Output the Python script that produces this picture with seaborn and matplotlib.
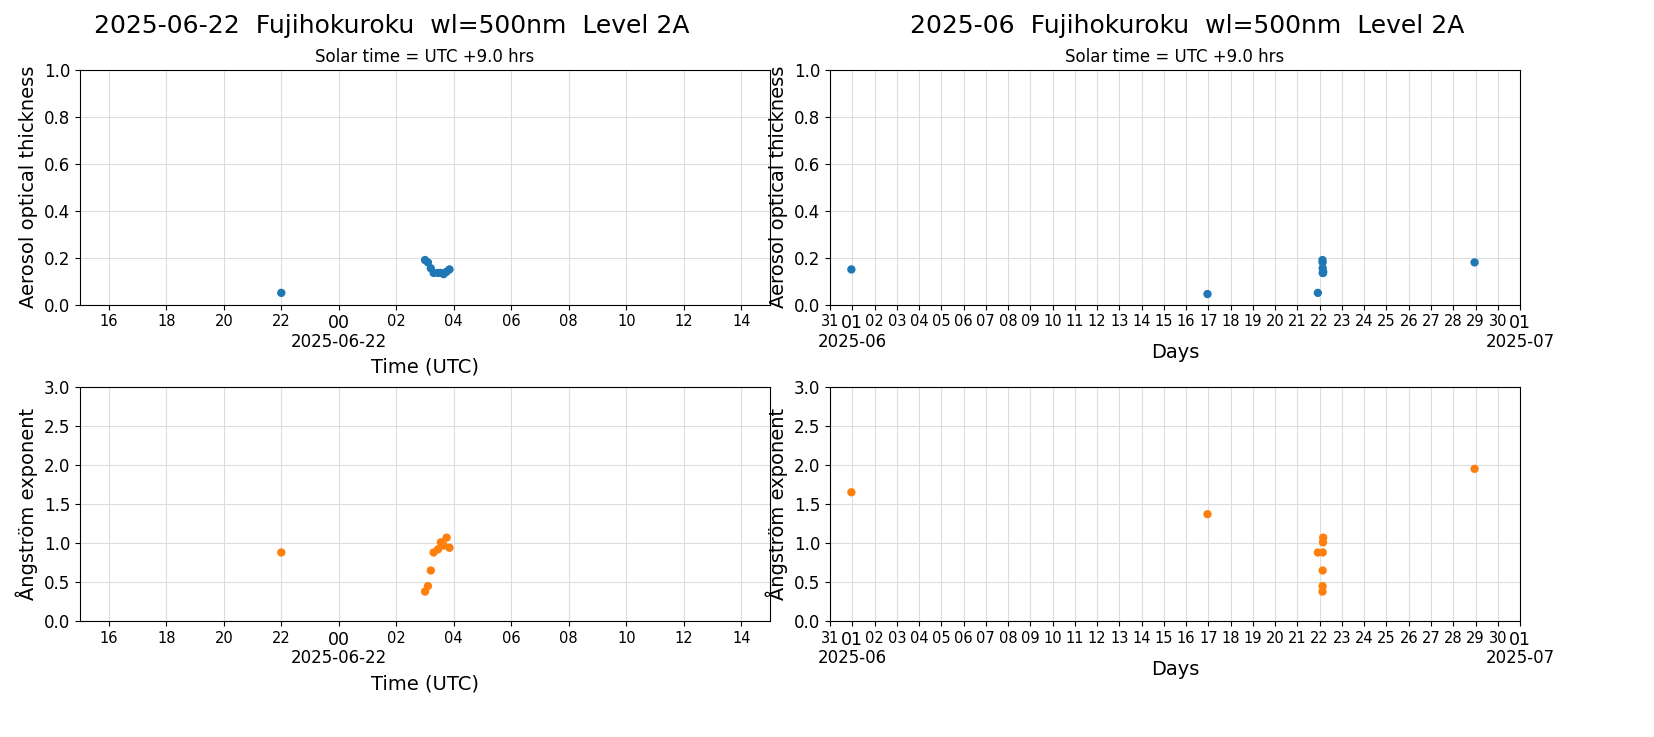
import pandas as pd
import numpy as np
import matplotlib
matplotlib.use("Agg")
import matplotlib.pyplot as plt
import seaborn as sns

# daily observations (UTC)
day_times = ["2025-06-21 22:00", "2025-06-22 03:00", "2025-06-22 03:06", "2025-06-22 03:12",
             "2025-06-22 03:18", "2025-06-22 03:27", "2025-06-22 03:33", "2025-06-22 03:39",
             "2025-06-22 03:45", "2025-06-22 03:51"]
day_aot = [0.05, 0.19, 0.18, 0.155, 0.135, 0.135, 0.135, 0.13, 0.14, 0.15]
day_ae = [0.88, 0.38, 0.45, 0.65, 0.88, 0.92, 1.01, 0.97, 1.07, 0.94]

# monthly observations
month_times = ["2025-05-31 23:00", "2025-06-16 23:00", "2025-06-21 22:00", "2025-06-22 03:00",
               "2025-06-22 03:06", "2025-06-22 03:12", "2025-06-22 03:18", "2025-06-22 03:33",
               "2025-06-22 03:45", "2025-06-28 23:00"]
month_aot = [0.15, 0.045, 0.05, 0.19, 0.18, 0.155, 0.135, 0.135, 0.14, 0.18]
month_ae = [1.65, 1.37, 0.88, 0.38, 0.45, 0.65, 0.88, 1.01, 1.07, 1.95]

day = pd.DataFrame({"t": pd.to_datetime(day_times), "aot": day_aot, "ae": day_ae})
mon = pd.DataFrame({"t": pd.to_datetime(month_times), "aot": month_aot, "ae": month_ae})

blue, orange = "#1f77b4", "#ff7f0e"
fig, axes = plt.subplots(2, 2, figsize=(16.54, 7.37), dpi=100)
plt.subplots_adjust(left=0.0484, right=0.919, top=0.905, bottom=0.157, wspace=0.087, hspace=0.35)

def style(ax, ylim, ylabel, yticks):
    ax.set_ylim(*ylim)
    ax.set_yticks(yticks)
    ax.set_yticklabels([f"{v:.1f}" for v in yticks])
    ax.set_ylabel(ylabel, fontsize=14)
    ax.grid(True, color="#dddddd")
    ax.set_axisbelow(True)
    ax.tick_params(axis="y", labelsize=12)

# left column: one day
for ax, col, c, ylim, lab, yt in [
        (axes[0, 0], "aot", blue, (0, 1), "Aerosol optical thickness", np.arange(0, 1.01, 0.2)),
        (axes[1, 0], "ae", orange, (0, 3), "Ångström exponent", np.arange(0, 3.01, 0.5))]:
    sns.scatterplot(data=day, x="t", y=col, color=c, s=36, edgecolor="none", ax=ax)
    ax.set_xlim(pd.Timestamp("2025-06-21 15:00"), pd.Timestamp("2025-06-22 15:00"))
    ticks = pd.date_range("2025-06-21 16:00", "2025-06-22 14:00", freq="2h")
    ax.set_xticks(ticks)
    ax.set_xticklabels([t.strftime("%H") for t in ticks], fontsize=10.5)
    for lbl in ax.get_xticklabels():
        if lbl.get_text() == "00":
            lbl.set_fontsize(12.5)
    ax.text(pd.Timestamp("2025-06-22 00:00"), -0.12, "2025-06-22", transform=ax.get_xaxis_transform(),
            ha="center", va="top", fontsize=12)
    ax.set_xlabel("Time (UTC)", fontsize=14, labelpad=18)
    style(ax, ylim, lab, yt)

# right column: one month
for ax, col, c, ylim, lab, yt in [
        (axes[0, 1], "aot", blue, (0, 1), "Aerosol optical thickness", np.arange(0, 1.01, 0.2)),
        (axes[1, 1], "ae", orange, (0, 3), "Ångström exponent", np.arange(0, 3.01, 0.5))]:
    sns.scatterplot(data=mon, x="t", y=col, color=c, s=36, edgecolor="none", ax=ax)
    ax.set_xlim(pd.Timestamp("2025-05-31"), pd.Timestamp("2025-07-01"))
    ticks = pd.date_range("2025-05-31", "2025-07-01", freq="D")
    ax.set_xticks(ticks)
    ax.set_xticklabels([t.strftime("%d") for t in ticks], fontsize=10.5)
    for lbl, t in zip(ax.get_xticklabels(), ticks):
        if t.day == 1:
            lbl.set_fontsize(12.5)
    for t in ["2025-06-01", "2025-07-01"]:
        ax.text(pd.Timestamp(t), -0.12, t[:7], transform=ax.get_xaxis_transform(),
                ha="center", va="top", fontsize=12)
    ax.set_xlabel("Days", fontsize=14, labelpad=8)
    style(ax, ylim, lab, yt)

axes[0, 0].set_title("Solar time = UTC +9.0 hrs", fontsize=12)
axes[0, 1].set_title("Solar time = UTC +9.0 hrs", fontsize=12)
fig.text(0.237, 0.965, "2025-06-22  Fujihokuroku  wl=500nm  Level 2A", ha="center", va="center", fontsize=18)
fig.text(0.718, 0.965, "2025-06  Fujihokuroku  wl=500nm  Level 2A", ha="center", va="center", fontsize=18)
fig.savefig("out.png", dpi=100)
